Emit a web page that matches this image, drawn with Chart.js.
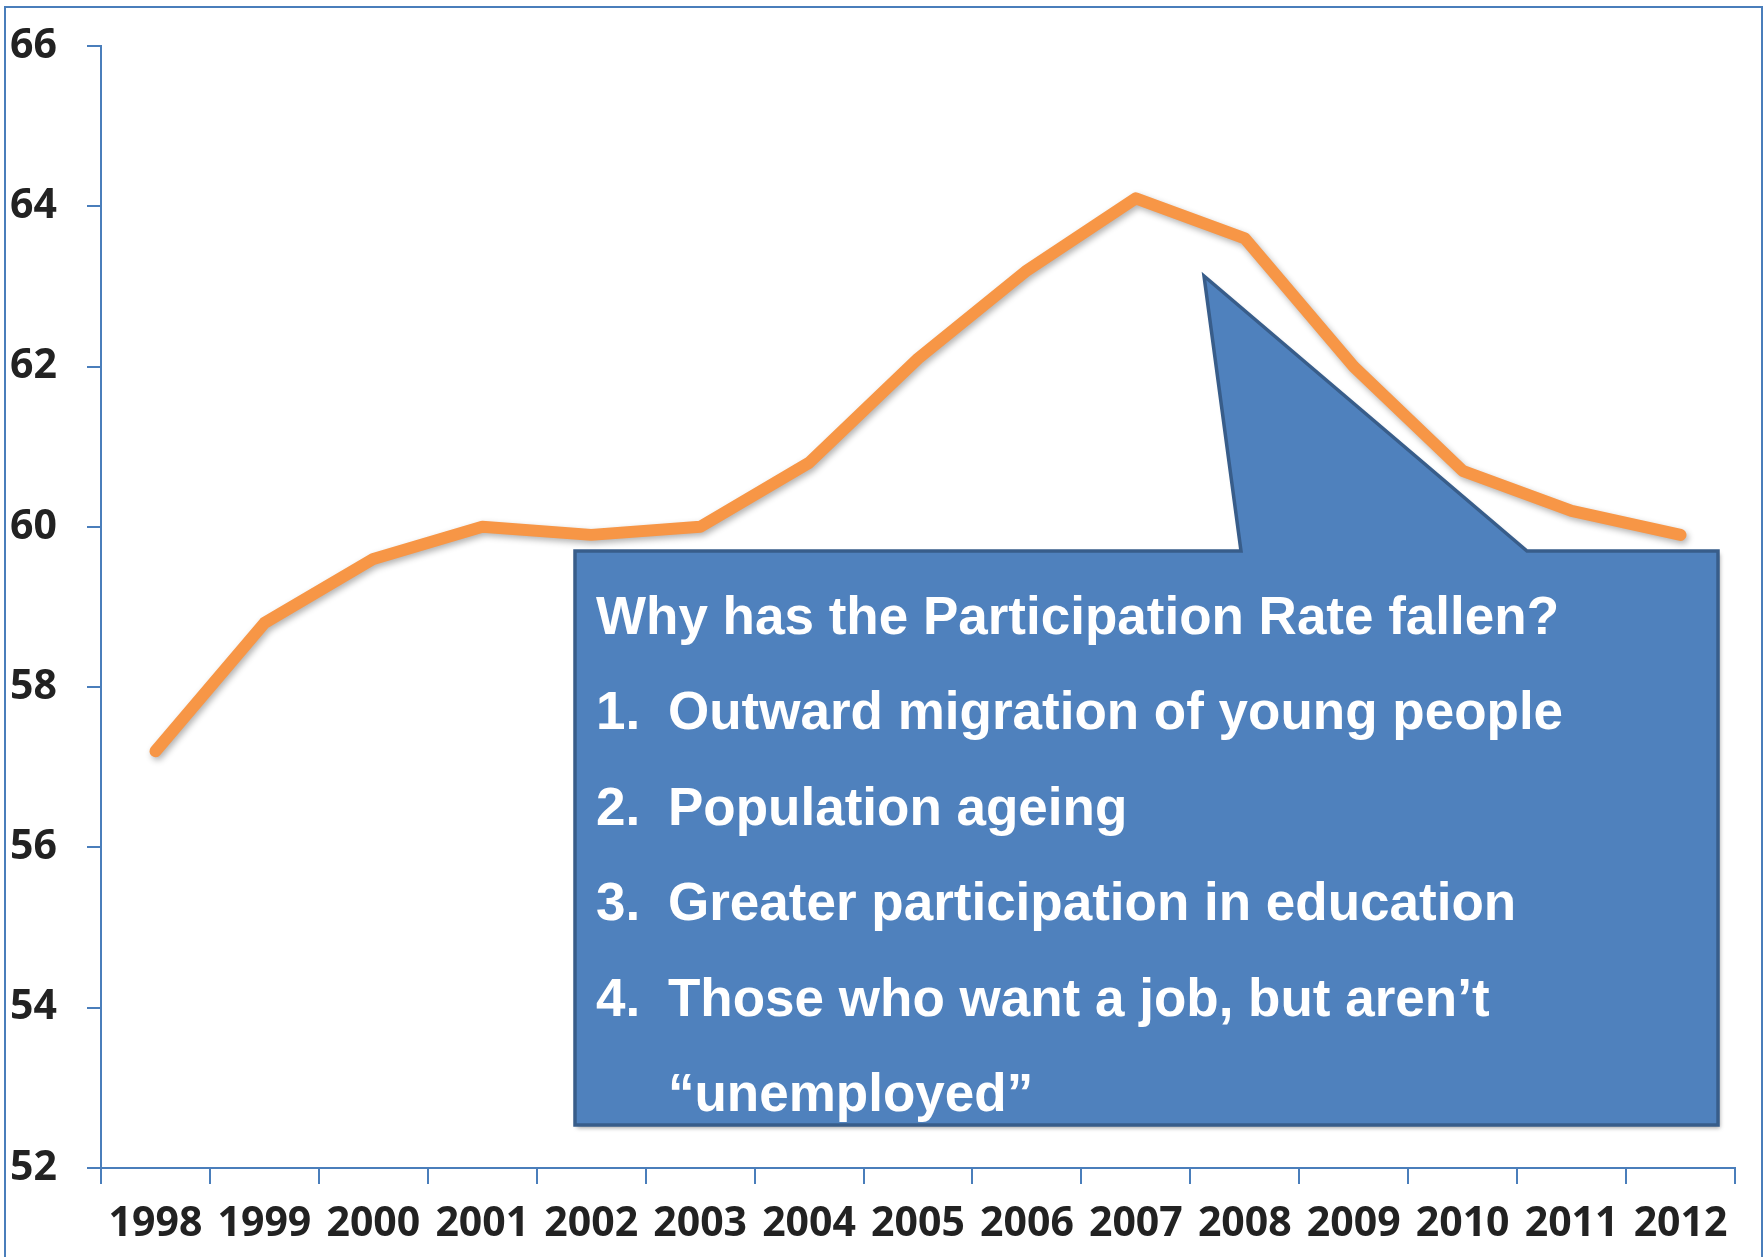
<!DOCTYPE html>
<html>
<head>
<meta charset="utf-8">
<script src="https://cdn.jsdelivr.net/npm/chart.js@4.4.1/dist/chart.umd.min.js"></script>
<style>
  html, body { margin: 0; padding: 0; background: #fff; }
  #wrap { width: 1764px; height: 1257px; position: relative; }
</style>
</head>
<body>
<div id="wrap"><canvas id="chart"></canvas></div>
<script>
// Participation rate by year
const years = ['1998', '1999', '2000', '2001', '2002', '2003', '2004', '2005',
               '2006', '2007', '2008', '2009', '2010', '2011', '2012'];
const participationRate = [57.2, 58.8, 59.6, 60.0, 59.9, 60.0, 60.8, 62.1,
                           63.2, 64.1, 63.6, 62.0, 60.7, 60.2, 59.9];
const yMin = 52;
const yMax = 66;
const yStep = 2;

// Callout text
const calloutTitle = 'Why has the Participation Rate fallen?';
const calloutNumbers = ['1.', '2.', '3.', '4.', ''];
const calloutItems = ['Outward migration of young people', 'Population ageing',
                      'Greater participation in education',
                      'Those who want a job, but aren\u2019t', '\u201Cunemployed\u201D'];

const axisBlue = '#4A7EBB';

// Frame around the whole picture
const framePlugin = {
    id: 'frame',
    beforeDraw(chart) {
        const ctx = chart.ctx;
        ctx.save();
        ctx.strokeStyle = axisBlue;
        ctx.lineWidth = 2;
        ctx.strokeRect(5, 7, 1757, 1300);
        ctx.restore();
    }
};

// Soft shadow under the line
const shadowPlugin = {
    id: 'lineShadow',
    beforeDatasetsDraw(chart) {
        const ctx = chart.ctx;
        ctx.save();
        ctx.shadowColor = 'rgba(0,0,0,0.3)';
        ctx.shadowBlur = 6;
        ctx.shadowOffsetX = 2;
        ctx.shadowOffsetY = 3;
    },
    afterDatasetsDraw(chart) {
        chart.ctx.restore();
    }
};

// Speech-bubble callout
const calloutPlugin = {
    id: 'callout',
    afterDraw(chart) {
        const ctx = chart.ctx;
        ctx.save();
        ctx.beginPath();
        ctx.moveTo(575, 551);
        ctx.lineTo(1241, 551);
        ctx.lineTo(1204, 276);
        ctx.lineTo(1527, 551);
        ctx.lineTo(1718, 551);
        ctx.lineTo(1718, 1125);
        ctx.lineTo(575, 1125);
        ctx.closePath();
        ctx.shadowColor = 'rgba(0,0,0,0.35)';
        ctx.shadowBlur = 4;
        ctx.shadowOffsetX = 2;
        ctx.shadowOffsetY = 3;
        ctx.fillStyle = '#4F81BD';
        ctx.fill();
        ctx.shadowColor = 'transparent';
        ctx.strokeStyle = '#385D8A';
        ctx.lineWidth = 3.5;
        ctx.lineJoin = 'miter';
        ctx.stroke();

        ctx.fillStyle = '#fff';
        ctx.font = 'bold 53px "Liberation Sans", Arial, sans-serif';
        ctx.textBaseline = 'alphabetic';
        ctx.fillText(calloutTitle, 596, 634);
        const baseY = [729, 825, 920, 1016, 1111];
        calloutItems.forEach((item, i) => {
            ctx.fillText(calloutNumbers[i], 596, baseY[i]);
            ctx.fillText(item, 668, baseY[i]);
        });
        ctx.restore();
    }
};

const ctx = document.getElementById('chart').getContext('2d');
new Chart(ctx, {
    type: 'line',
    data: {
        labels: years,
        datasets: [{
            label: 'Participation rate',
            data: participationRate,
            borderColor: '#F79646',
            borderWidth: 12,
            borderCapStyle: 'round',
            borderJoinStyle: 'round',
            pointRadius: 0,
            tension: 0,
            fill: false
        }]
    },
    options: {
        responsive: true,
        maintainAspectRatio: false,
        animation: false,
        devicePixelRatio: 1,
        layout: { padding: { top: 46, right: 29, left: 0, bottom: 0 } },
        plugins: {
            legend: { display: false },
            tooltip: { enabled: false }
        },
        scales: {
            x: {
                offset: true,
                grid: {
                    offset: true,
                    drawOnChartArea: false,
                    drawTicks: true,
                    tickLength: 16,
                    color: axisBlue,
                    lineWidth: 2
                },
                border: { display: true, color: axisBlue, width: 2 },
                ticks: {
                    color: '#222',
                    padding: 16,
                    maxRotation: 0,
                    autoSkip: false,
                    font: { family: '"Open Sans", Lato, sans-serif', weight: 'bold', size: 41 }
                },
                afterFit(scale) { scale.height = 89; }
            },
            y: {
                min: yMin,
                max: yMax,
                grid: {
                    drawOnChartArea: false,
                    drawTicks: true,
                    tickLength: 14,
                    color: axisBlue,
                    lineWidth: 2
                },
                border: { display: true, color: axisBlue, width: 2 },
                ticks: {
                    stepSize: yStep,
                    color: '#222',
                    padding: 30,
                    font: { family: '"Open Sans", Lato, sans-serif', weight: 'bold', size: 41 }
                },
                afterFit(scale) {
                    scale.width = 101;
                    scale.paddingTop = 0;
                    scale.paddingBottom = 0;
                }
            }
        }
    },
    plugins: [framePlugin, shadowPlugin, calloutPlugin]
});
</script>
</body>
</html>
